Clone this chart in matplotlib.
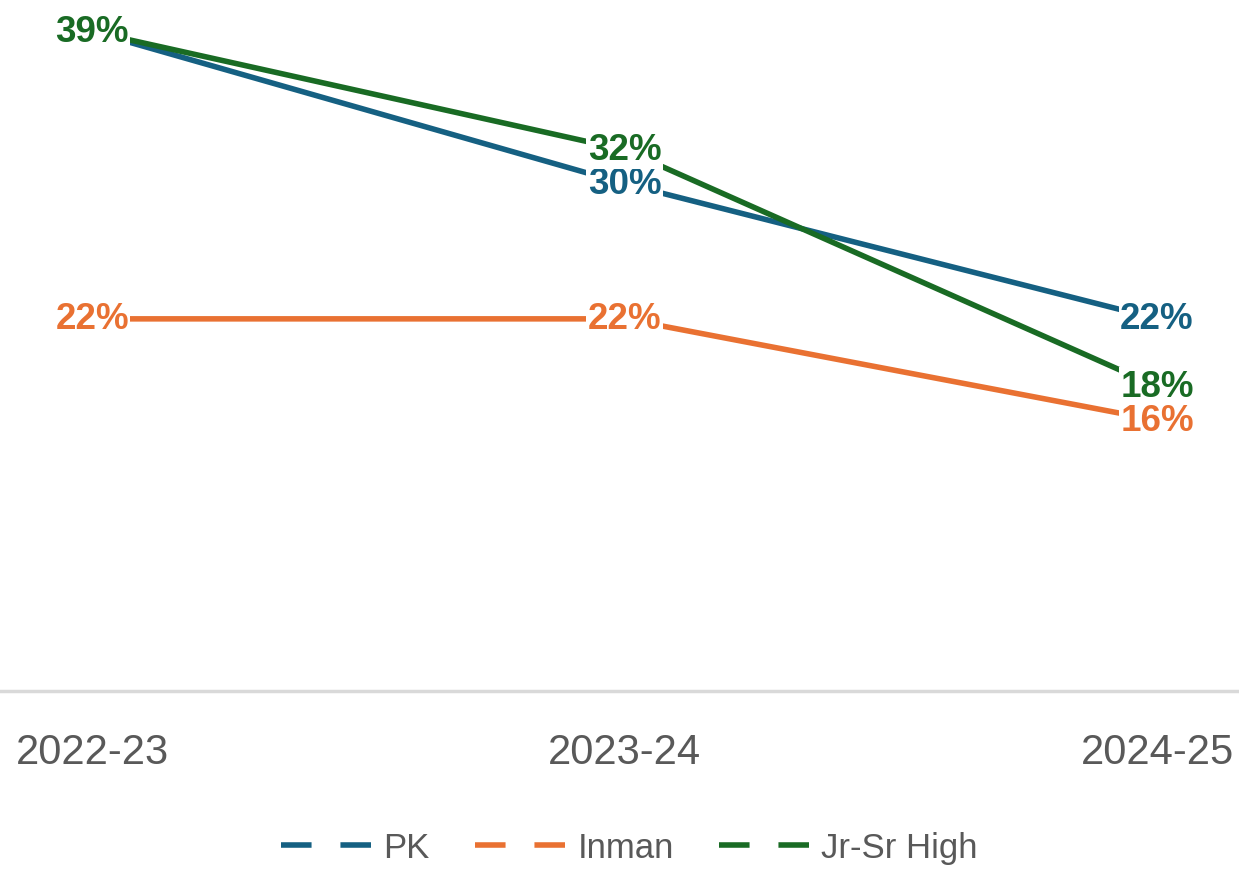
import matplotlib.pyplot as plt
from matplotlib.lines import Line2D

years = ["2022-23", "2023-24", "2024-25"]
pk = [0.39, 0.30, 0.22]
inman = [0.22, 0.22, 0.16]
jrsr = [0.39, 0.32, 0.18]

series = [("PK", pk, "#156082"), ("Inman", inman, "#E97132"), ("Jr-Sr High", jrsr, "#196B24")]

plt.rcParams["font.family"] = ["Liberation Sans", "DejaVu Sans"]

fig = plt.figure(figsize=(12.39, 8.7), dpi=100)
ax = fig.add_axes([0, 0.205, 1, 0.777])

x = list(range(len(years)))
for name, vals, color in series:
    ax.plot(x, vals, color=color, lw=4, solid_capstyle="butt", zorder=2)

# data labels sit on the points with a white box
for name, vals, color in series:
    for i, v in enumerate(vals):
        if name == "PK" and i == 0:
            continue
        ax.text(i, v, f"{v:.0%}", color=color, fontsize=26.5, fontweight="bold",
                ha="center", va="center", zorder=3,
                bbox=dict(facecolor="white", edgecolor="none", pad=1))

ax.set_xlim(-0.173, 2.154)
ax.set_ylim(0, 0.40)
ax.set_xticks(x)
ax.set_xticklabels(years, fontsize=30, color="#595959")
ax.tick_params(axis="x", length=0, pad=30)
ax.set_yticks([])
for s in ["top", "left", "right"]:
    ax.spines[s].set_visible(False)
ax.spines["bottom"].set_color("#D9D9D9")
ax.spines["bottom"].set_linewidth(2.5)

handles = [Line2D([], [], color=c, lw=4, linestyle=(0, (5.5, 5.2))) for _, _, c in series]
fig.legend(handles, [s[0] for s in series], loc="center", bbox_to_anchor=(0.508, 0.025),
           ncol=3, frameon=False, fontsize=25, labelcolor="#595959",
           handlelength=2.7, handletextpad=0.25, columnspacing=1.3)

fig.savefig("out.png", dpi=100)
